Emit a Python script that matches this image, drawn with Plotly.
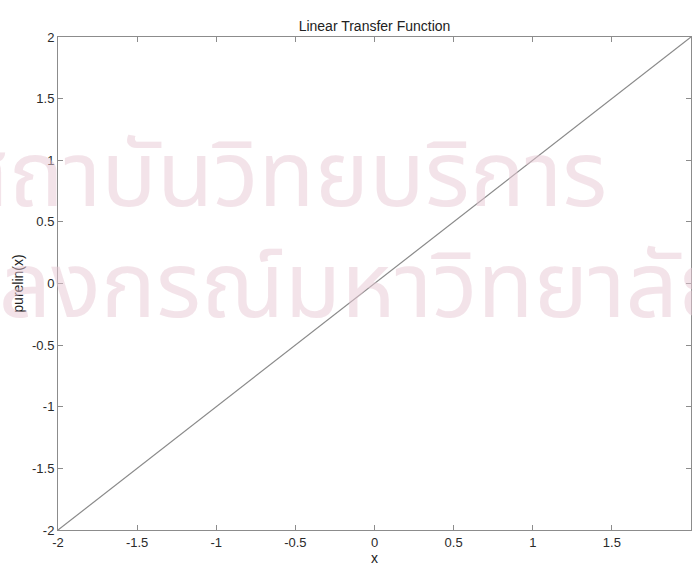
import plotly.graph_objects as go

x_vals = [-2, 2]
y_vals = [-2, 2]
tick_vals = [-2, -1.5, -1, -0.5, 0, 0.5, 1, 1.5, 2]
tick_text = ["-2", "-1.5", "-1", "-0.5", "0", "0.5", "1", "1.5", "2"]
title_text = "Linear Transfer Function"
x_label = "x"
y_label = "purelin(x)"
watermark_lines = ["สถาบันวิทยบริการ", "จุฬาลงกรณ์มหาวิทยาลัย"]

fig = go.Figure()
fig.add_trace(go.Scatter(x=x_vals, y=y_vals, mode="lines",
                         line=dict(color="#8a8a8a", width=1.2),
                         hoverinfo="skip", showlegend=False))

wm_color = "rgba(232,200,212,0.5)"
wm_font = dict(family="Noto Sans Thai, Noto Sans, sans-serif", size=92, color=wm_color)
fig.add_annotation(text=watermark_lines[0], xref="paper", yref="paper",
                   x=-0.165, y=0.715, xanchor="left", yanchor="middle",
                   showarrow=False, font=wm_font)
fig.add_annotation(text=watermark_lines[1], xref="paper", yref="paper",
                   x=-0.33, y=0.49, xanchor="left", yanchor="middle",
                   showarrow=False, font=wm_font)

label_font = dict(family="Liberation Sans, Arial, sans-serif", size=14, color="#222222")
axis_common = dict(
    showgrid=False, zeroline=False, showline=True, linecolor="#8c8c8c",
    linewidth=1, mirror="allticks", ticks="inside", ticklen=5,
    tickcolor="#8c8c8c", tickwidth=1, automargin=False,
    tickvals=tick_vals, ticktext=tick_text,
    tickfont=dict(family="Liberation Sans, Arial, sans-serif", size=13, color="#2a2a2a"),
)

fig.update_layout(
    width=692, height=570,
    paper_bgcolor="white", plot_bgcolor="rgba(0,0,0,0)",
    margin=dict(l=58, r=1, t=37, b=40, autoexpand=False),
    title=dict(text=title_text, x=(58 + 691) / 2 / 692, xanchor="center",
               y=1 - 26 / 570, yanchor="middle", font=label_font),
    xaxis=dict(range=[-2, 2], title=dict(text=x_label, standoff=1, font=label_font),
               **axis_common),
    yaxis=dict(range=[-2, 2], title=dict(text=y_label, standoff=5, font=label_font),
               **axis_common),
)

fig.write_html("out.html",
               config={"displayModeBar": False, "staticPlot": True},
               post_script="document.body.style.margin='0';document.body.style.overflow='hidden';")
